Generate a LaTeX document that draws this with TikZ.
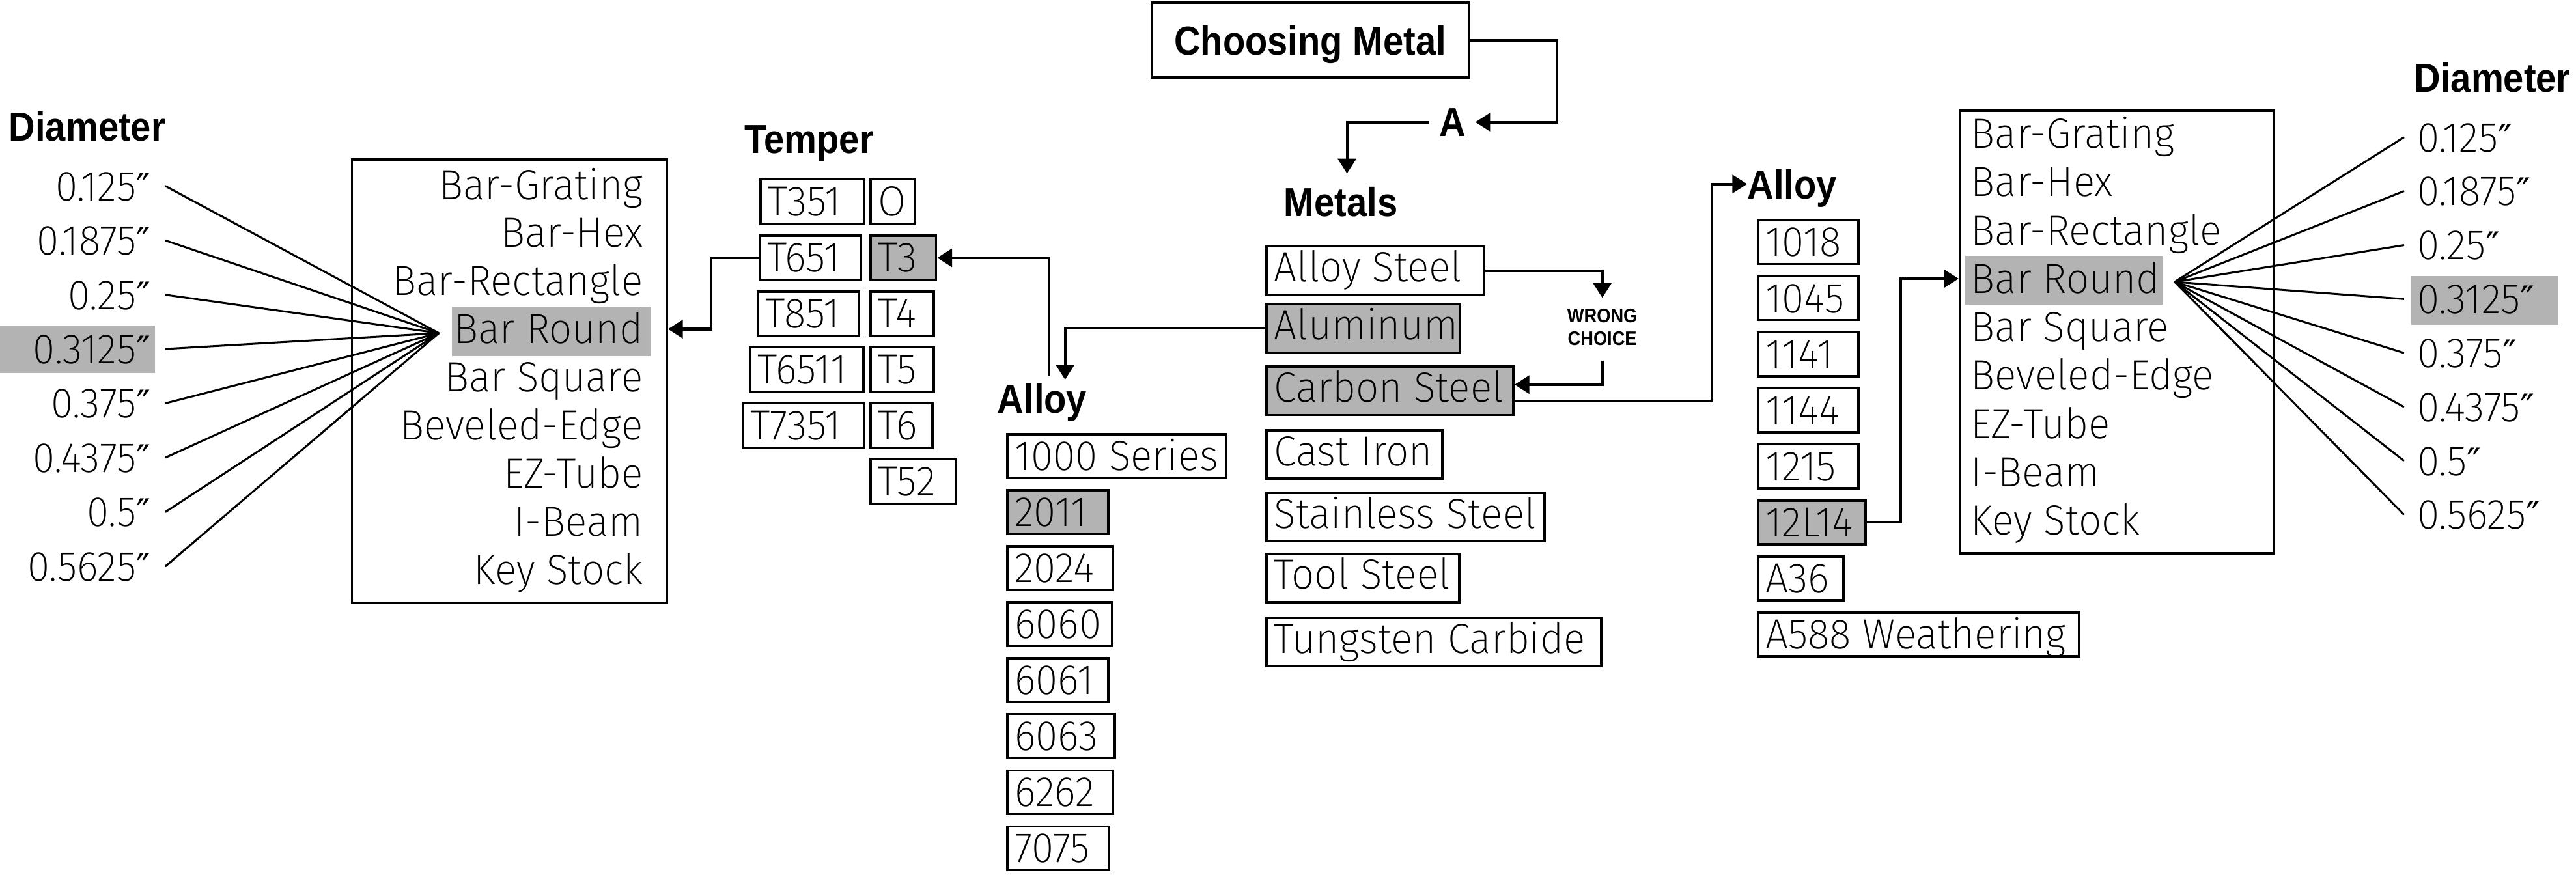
\documentclass[tikz,border=0pt]{standalone}
\usepackage{fontspec}
\setmainfont{Fira Sans ExtraLight}
\newfontfamily\lightf[FakeStretch=0.96]{Fira Sans ExtraLight}
\newfontfamily\boldf[FakeStretch=0.9]{Liberation Sans Bold}
\newfontfamily\symf[Scale=0.9]{DejaVu Sans}
\newcommand\inchmark{{\symf\char"2033}}
\usetikzlibrary{arrows.meta,calc}
\definecolor{hlgray}{RGB}{179,179,179}
\newcommand\bx[5]{\node[#1] (#2) at (#3) {\makebox[#4pt][l]{#5}};}
\tikzset{
  lt/.style={font=\lightf\fontsize{25.7pt}{30pt}\selectfont, inner sep=0pt, text height=17.7pt, text depth=0pt},
  hd/.style={font=\boldf\fontsize{24.7pt}{29pt}\selectfont, inner sep=0pt, text height=17.7pt, text depth=0pt, anchor=base west},
  sbox/.style={draw, line width=1.5pt, lt, inner xsep=4.5pt, inner ysep=0pt, text height=22pt, text depth=4.6pt, anchor=north west},
  tbox/.style={sbox, text height=22.2pt, text depth=5pt},
  mbox/.style={sbox, text height=21.5pt, text depth=8pt},
  bigbox/.style={draw, line width=1.3pt, anchor=north west, inner sep=0pt},
  litem/.style={lt, anchor=base east},
  ritem/.style={lt, anchor=base west},
  conn/.style={line width=1.6pt},
  arr/.style={conn, -{Triangle[length=9pt,width=11pt]}},
  fan/.style={line width=1.2pt},
}
\begin{document}
\begin{tikzpicture}[x=1pt,y=-1pt]
\fill[white] (0,0) rectangle (1568,532.7);
\useasboundingbox (0,0) rectangle (1568,532.7);

% highlights
\fill[hlgray] (275.2,186.7) rectangle (396,216.7);
\fill[hlgray] (1196.3,155.7) rectangle (1316.8,185.3);
\fill[hlgray] (0,198) rectangle (94.2,227.3);
\fill[hlgray] (1467.3,168.2) rectangle (1557.1,197.8);

% title
\node[draw, line width=1.5pt, anchor=north west, minimum width=192.8pt, minimum height=45.6pt, inner sep=0pt,
      font=\boldf\fontsize{24.7pt}{29pt}\selectfont, text height=17.7pt, text depth=0pt] (cm) at (700.4,0.9) {Choosing Metal};
\node[hd, outer xsep=6pt] (A) at (870,83.2) {A};

% headers
\node[hd] (mt) at (781.3,131.8) {Metals};
\node[hd] (tp) at (453,93.5) {Temper};
\node[hd] (ma) at (607,251.3) {Alloy};
\node[hd] (ra) at (1063.5,120.9) {Alloy};
\node[hd] (dl) at (5.3,85.7) {Diameter};
\node[hd] (dr) at (1469.4,56.2) {Diameter};
\node[font=\boldf\fontsize{12pt}{13.7pt}\selectfont, align=center, inner sep=0pt] (wc) at (975.3,199.1) {WRONG\\CHOICE};

% metals
\bx{mbox}{as}{770.3,149.3}{123.3}{Alloy Steel}
\bx{mbox,fill=hlgray}{al}{770.3,184.4}{108.8}{Aluminum}
\bx{mbox,fill=hlgray}{cs}{770.3,222.4}{141.1}{Carbon Steel}
\bx{mbox}{ci}{770.3,261.2}{98}{Cast Iron}
\bx{mbox}{ss}{770.3,299.2}{160.1}{Stainless Steel}
\bx{mbox}{ts}{770.3,336.4}{108.3}{Tool Steel}
\bx{mbox}{tc}{770.3,375.3}{194.6}{Tungsten Carbide}

% temper
\bx{tbox}{t351}{462.2,108.3}{54}{T351}
\bx{tbox}{t651}{461.7,142.6}{52.6}{T651}
\bx{tbox}{t851}{460.6,176.7}{52.6}{T851}
\bx{tbox}{t6511}{456,210.7}{59.8}{T6511}
\bx{tbox}{t7351}{451.6,244.8}{64.6}{T7351}
\bx{tbox}{to}{529.3,108.3}{17.8}{O}
\bx{tbox,fill=hlgray}{t3}{529.3,142.6}{30.7}{T3}
\bx{tbox}{t4}{529.3,176.7}{29.2}{T4}
\bx{tbox}{t5}{529.3,210.7}{29.2}{T5}
\bx{tbox}{t6}{529.3,244.8}{28.5}{T6}
\bx{tbox}{t52}{529.3,278.8}{42.7}{T52}

% middle alloys
\bx{sbox}{a1000}{612.4,263.7}{124}{1000 Series}
\bx{sbox,fill=hlgray}{a2011}{612.4,297.8}{52.3}{2011}
\bx{sbox}{a2024}{612.4,331.9}{55.3}{2024}
\bx{sbox}{a6060}{612.4,366.0}{54.6}{6060}
\bx{sbox}{a6061}{612.4,400.1}{52.4}{6061}
\bx{sbox}{a6063}{612.4,434.2}{56.4}{6063}
\bx{sbox}{a6262}{612.4,468.3}{55.3}{6262}
\bx{sbox}{a7075}{612.4,502.4}{53}{7075}

% right alloys
\bx{sbox}{r1018}{1069.5,133.4}{52}{1018}
\bx{sbox}{r1045}{1069.5,167.5}{52}{1045}
\bx{sbox}{r1141}{1069.5,201.6}{52}{1141}
\bx{sbox}{r1144}{1069.5,235.7}{52}{1144}
\bx{sbox}{r1215}{1069.5,269.8}{52}{1215}
\bx{sbox,fill=hlgray}{l14}{1069.5,303.9}{56.3}{12L14}
\bx{sbox}{ra36}{1069.5,338.0}{42.8}{A36}
\bx{sbox}{ra588}{1069.5,372.1}{186.4}{A588 Weathering}

% big boxes
\node[bigbox, minimum width=191.6pt, minimum height=269.9pt] (lbox) at (213.7,96.5) {};
\node[bigbox, minimum width=190.9pt, minimum height=269.6pt] (rbox) at (1192.2,66.7) {};

% left box items
\node[litem] (l1) at (391.5,121.3) {Bar-Grating};
\node[litem] (l2) at (391.5,150.6) {Bar-Hex};
\node[litem] (l3) at (391.5,179.9) {Bar-Rectangle};
\node[litem] (lbr) at (391.5,209.2) {Bar Round};
\node[litem] (l5) at (391.5,238.5) {Bar Square};
\node[litem] (l6) at (391.5,267.8) {Beveled-Edge};
\node[litem] (l7) at (391.5,297.1) {EZ-Tube};
\node[litem] (l8) at (391.5,326.4) {I-Beam};
\node[litem] (l9) at (391.5,355.7) {Key Stock};

% right box items
\node[ritem] (q1) at (1199.5,90.2) {Bar-Grating};
\node[ritem] (q2) at (1199.5,119.6) {Bar-Hex};
\node[ritem] (q3) at (1199.5,149.1) {Bar-Rectangle};
\node[ritem] (rbr) at (1199.5,178.5) {Bar Round};
\node[ritem] (q5) at (1199.5,207.9) {Bar Square};
\node[ritem] (q6) at (1199.5,237.4) {Beveled-Edge};
\node[ritem] (q7) at (1199.5,266.8) {EZ-Tube};
\node[ritem] (q8) at (1199.5,296.2) {I-Beam};
\node[ritem] (q9) at (1199.5,325.6) {Key Stock};

% diameters left
\node[litem, outer xsep=9pt] (dl1) at (100.6,122.1) {0.125\inchmark};
\node[litem, outer xsep=9pt] (dl2) at (100.6,155.2) {0.1875\inchmark};
\node[litem, outer xsep=9pt] (dl3) at (100.6,188.3) {0.25\inchmark};
\node[litem, outer xsep=9pt] (dl4) at (100.6,221.3) {0.3125\inchmark};
\node[litem, outer xsep=9pt] (dl5) at (100.6,254.4) {0.375\inchmark};
\node[litem, outer xsep=9pt] (dl6) at (100.6,287.5) {0.4375\inchmark};
\node[litem, outer xsep=9pt] (dl7) at (100.6,320.6) {0.5\inchmark};
\node[litem, outer xsep=9pt] (dl8) at (100.6,353.7) {0.5625\inchmark};

% diameters right
\node[ritem, outer xsep=8pt] (dr1) at (1463.3,92.4) {0.125\inchmark};
\node[ritem, outer xsep=8pt] (dr2) at (1463.3,125.2) {0.1875\inchmark};
\node[ritem, outer xsep=8pt] (dr3) at (1463.3,158.1) {0.25\inchmark};
\node[ritem, outer xsep=8pt] (dr4) at (1463.3,190.9) {0.3125\inchmark};
\node[ritem, outer xsep=8pt] (dr5) at (1463.3,223.7) {0.375\inchmark};
\node[ritem, outer xsep=8pt] (dr6) at (1463.3,256.6) {0.4375\inchmark};
\node[ritem, outer xsep=8pt] (dr7) at (1463.3,289.4) {0.5\inchmark};
\node[ritem, outer xsep=8pt] (dr8) at (1463.3,322.2) {0.5625\inchmark};

\coordinate (fanL) at (267.1,202.8);
\coordinate (fanR) at (1323.7,171.6);
\foreach \i in {1,...,8} {
  \draw[fan] (dl\i.east) -- (fanL);
  \draw[fan] (dr\i.west) -- (fanR);
}

% connectors
\draw[arr] (cm.east) -- ++(53.1,0) |- (A.east);
\draw[arr] (A.west) -| ($(mt.north west)+(38.6,-8.3)$);
\draw[arr, shorten >=6.5pt] (as.east) -| (wc.north);
\draw[arr, shorten <=9pt] (wc.south) |- ($(cs.east)+(0,-3.75)$);
\draw[arr] ($(cs.east)+(0,6.15)$) -| ($(ra.west)+(-21.4,0)$) -- (ra.west);
\draw[arr] (al.west) -| ($(ma.north west)+(41.3,-2.3)$);
\draw[arr] ($(ma.north west)+(31.5,-4.3)$) |- (t3.east);
\draw[arr] (t651.west) -- ++(-28.7,0) |- (lbox.east |- lbr.west);
\draw[arr] (l14.east) -- ++(20.5,0) |- (rbox.west |- rbr.east);
\end{tikzpicture}
\end{document}
